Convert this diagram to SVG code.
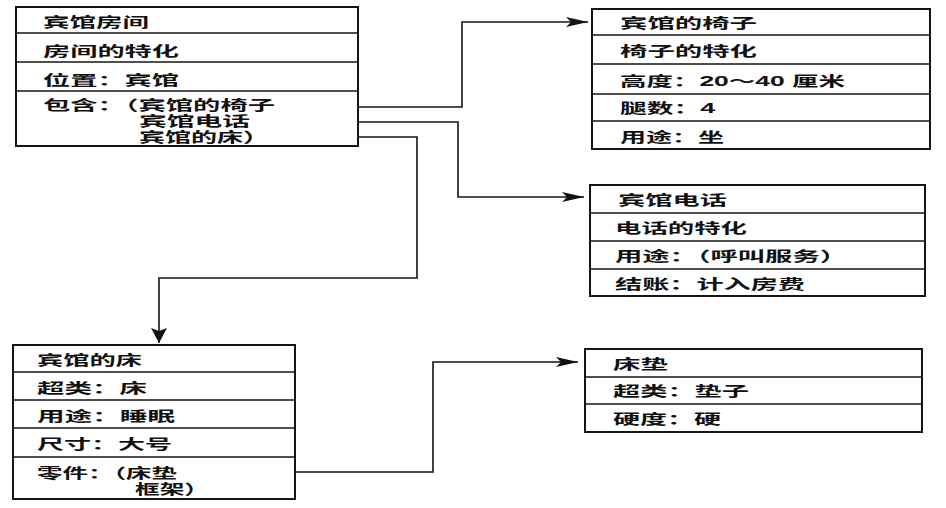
<svg xmlns="http://www.w3.org/2000/svg" width="946" height="508" viewBox="0 0 946 508">
<style>
.box{fill:#fff;stroke:#151515;stroke-width:2}
.div{stroke:#151515;stroke-width:1.6}
.t{font-family:"Liberation Sans","Noto Sans CJK SC",sans-serif;font-size:14px;font-weight:bold;fill:#111}
.c{fill:none;stroke:#151515;stroke-width:1.6}
</style>
<defs>
<marker id="ah" markerUnits="userSpaceOnUse" markerWidth="24" markerHeight="12" refX="22" refY="5" orient="auto">
<path d="M0,0 L22,5 L0,10 L5,5 z" fill="#111"/>
</marker>
<marker id="ad" markerUnits="userSpaceOnUse" markerWidth="16" markerHeight="16" refX="15" refY="8" orient="auto">
<path d="M0,0 L15,8 L0,16 L3,8 z" fill="#111"/>
</marker>
</defs>
<rect width="946" height="508" fill="#fff"/>

<g id="connectors">
<path class="c" d="M340,107 H462 V22 H588" marker-end="url(#ah)"/>
<path class="c" d="M345,122 H458 V197 H584" marker-end="url(#ah)"/>
<path class="c" d="M338,137 H417 V278 H159 V343" marker-end="url(#ad)"/>
<path class="c" d="M245,472 H433 V362 H578" marker-end="url(#ah)"/>
</g>

<g id="hotel-room">
<rect class="box" x="16" y="7" width="342" height="139"/>
<line class="div" x1="16" y1="33" x2="358" y2="33"/>
<line class="div" x1="16" y1="62" x2="358" y2="62"/>
<line class="div" x1="16" y1="91" x2="358" y2="91"/>
<text class="t" x="43" y="27" textLength="106" lengthAdjust="spacingAndGlyphs">宾馆房间</text>
<text class="t" x="43" y="56" textLength="136" lengthAdjust="spacingAndGlyphs">房间的特化</text>
<text class="t" x="43" y="85" textLength="136" lengthAdjust="spacingAndGlyphs">位置：宾馆</text>
<text class="t"><tspan x="43" y="110" textLength="232" lengthAdjust="spacingAndGlyphs">包含：（宾馆的椅子</tspan><tspan x="139" y="126" textLength="111" lengthAdjust="spacingAndGlyphs">宾馆电话</tspan><tspan x="139" y="142" textLength="130" lengthAdjust="spacingAndGlyphs">宾馆的床）</tspan></text>
</g>

<g id="hotel-chair">
<rect class="box" x="592" y="9" width="338" height="140"/>
<line class="div" x1="592" y1="35" x2="930" y2="35"/>
<line class="div" x1="592" y1="64" x2="930" y2="64"/>
<line class="div" x1="592" y1="94" x2="930" y2="94"/>
<line class="div" x1="592" y1="121" x2="930" y2="121"/>
<text class="t" x="620" y="28" textLength="137" lengthAdjust="spacingAndGlyphs">宾馆的椅子</text>
<text class="t" x="620" y="56" textLength="137" lengthAdjust="spacingAndGlyphs">椅子的特化</text>
<text class="t" x="620" y="86" textLength="225" lengthAdjust="spacingAndGlyphs">高度：20～40 厘米</text>
<text class="t" x="620" y="113" textLength="95" lengthAdjust="spacingAndGlyphs">腿数：4</text>
<text class="t" x="620" y="142" textLength="104" lengthAdjust="spacingAndGlyphs">用途：坐</text>
</g>

<g id="hotel-phone">
<rect class="box" x="590" y="185" width="335" height="111"/>
<line class="div" x1="590" y1="213" x2="925" y2="213"/>
<line class="div" x1="590" y1="241" x2="925" y2="241"/>
<line class="div" x1="590" y1="269" x2="925" y2="269"/>
<text class="t" x="618" y="205" textLength="109" lengthAdjust="spacingAndGlyphs">宾馆电话</text>
<text class="t" x="615" y="233" textLength="132" lengthAdjust="spacingAndGlyphs">电话的特化</text>
<text class="t" x="615" y="261" textLength="232" lengthAdjust="spacingAndGlyphs">用途：（呼叫服务）</text>
<text class="t" x="615" y="289" textLength="190" lengthAdjust="spacingAndGlyphs">结账：计入房费</text>
</g>

<g id="hotel-bed">
<rect class="box" x="13" y="345" width="282" height="154"/>
<line class="div" x1="13" y1="372" x2="295" y2="372"/>
<line class="div" x1="13" y1="400" x2="295" y2="400"/>
<line class="div" x1="13" y1="428" x2="295" y2="428"/>
<line class="div" x1="13" y1="457" x2="295" y2="457"/>
<text class="t" x="37" y="365" textLength="105" lengthAdjust="spacingAndGlyphs">宾馆的床</text>
<text class="t" x="37" y="393" textLength="110" lengthAdjust="spacingAndGlyphs">超类：床</text>
<text class="t" x="37" y="421" textLength="138" lengthAdjust="spacingAndGlyphs">用途：睡眠</text>
<text class="t" x="37" y="449" textLength="135" lengthAdjust="spacingAndGlyphs">尺寸：大号</text>
<text class="t"><tspan x="37" y="478" textLength="140" lengthAdjust="spacingAndGlyphs">零件：（床垫</tspan><tspan x="135" y="494" textLength="74" lengthAdjust="spacingAndGlyphs">框架）</tspan></text>
</g>

<g id="mattress">
<rect class="box" x="585" y="349" width="337" height="83"/>
<line class="div" x1="585" y1="377" x2="922" y2="377"/>
<line class="div" x1="585" y1="404" x2="922" y2="404"/>
<text class="t" x="613" y="369" textLength="55" lengthAdjust="spacingAndGlyphs">床垫</text>
<text class="t" x="613" y="396" textLength="136" lengthAdjust="spacingAndGlyphs">超类：垫子</text>
<text class="t" x="613" y="424" textLength="108" lengthAdjust="spacingAndGlyphs">硬度：硬</text>
</g>
</svg>
